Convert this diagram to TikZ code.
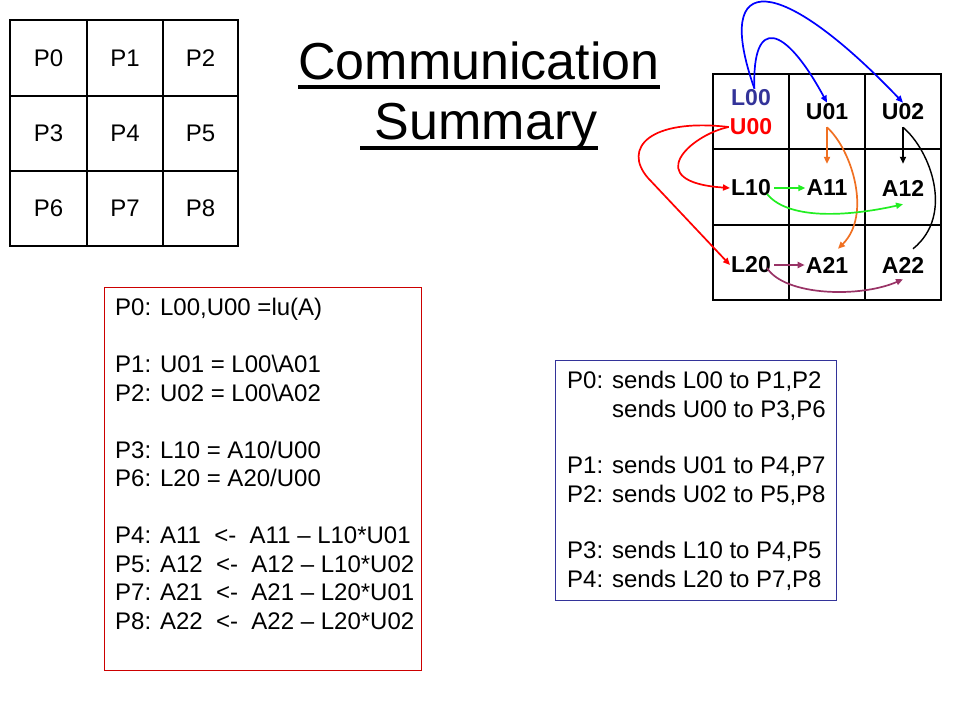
\documentclass[tikz,border=0pt]{standalone}
\usepackage{fontspec}
\setmainfont{Liberation Sans}
\usetikzlibrary{arrows.meta}
\definecolor{navy}{HTML}{333399}
\definecolor{orng}{HTML}{F07022}
\definecolor{grn}{HTML}{22EE22}
\definecolor{plum}{HTML}{993366}
\definecolor{boxred}{HTML}{CC0000}
\tikzset{
	proc/.style={font=\fontsize{24}{28}\selectfont},
	blk/.style={inner sep=1pt, font=\fontsize{23}{28}\bfseries\selectfont},
	title/.style={inner sep=0pt, anchor=base, font=\fontsize{52}{60}\selectfont},
	txt/.style={inner sep=0pt, anchor=base west, font=\fontsize{24}{28}\selectfont},
	msg/.style={line width=0.6mm, -{Triangle[length=7pt,width=6pt]}}
}

\begin{document}
\begin{tikzpicture}[x=1pt, y=-1pt]
		%%%%% START %%%%%
		\useasboundingbox (0,0) rectangle (960,720);
		
		% processor grid
		\draw[line width=0.9mm] (10,20) rectangle (238,246);
		\draw[line width=0.9mm] (87,20) -- (87,246);
		\draw[line width=0.9mm] (163,20) -- (163,246);
		\draw[line width=0.9mm] (10,96) -- (238,96);
		\draw[line width=0.9mm] (10,171) -- (238,171);
		
		\node[proc] (p0) at (48.5,58) {P0};
		\node[proc] (p1) at (125,58) {P1};
		\node[proc] (p2) at (200.5,58) {P2};
		\node[proc] (p3) at (48.5,133.5) {P3};
		\node[proc] (p4) at (125,133.5) {P4};
		\node[proc] (p5) at (200.5,133.5) {P5};
		\node[proc] (p6) at (48.5,208.5) {P6};
		\node[proc] (p7) at (125,208.5) {P7};
		\node[proc] (p8) at (200.5,208.5) {P8};
		
		% title
		\node[title] (comm) at (479,79) {Communication};
		\node[title] (summ) at (479,139) {\ Summary};
		\draw[line width=1.1mm] ([shift={(0,8)}]comm.base west) -- ([shift={(0,8)}]comm.base east);
		\draw[line width=1.1mm] ([shift={(0,9)}]summ.base west) -- ([shift={(0,9)}]summ.base east);
		
		% block grid
		\draw[line width=0.9mm] (713,74) rectangle (941,300);
		\draw[line width=0.9mm] (789,74) -- (789,300);
		\draw[line width=0.9mm] (865,74) -- (865,300);
		\draw[line width=0.9mm] (713,149) -- (941,149);
		\draw[line width=0.9mm] (713,225) -- (941,225);
		
		\node[blk, color=navy] (l00) at (751,98) {L00};
		\node[blk, color=red] (u00) at (751,127) {U00};
		\node[blk] (u01) at (827,112) {U01};
		\node[blk] (u02) at (903,112) {U02};
		\node[blk] (l10) at (751,188) {L10};
		\node[blk] (a11) at (827,188) {A11};
		\node[blk] (a12) at (903,188) {A12};
		\node[blk] (l20) at (751,265) {L20};
		\node[blk] (a21) at (827,265) {A21};
		\node[blk] (a22) at (903,265) {A22};
		
		% messages
		\draw[msg, color=blue] (l00.70) .. controls (712,-32) and (780,-26) .. (u02.north);
		\draw[msg, color=blue] (l00.70) .. controls (752,15) and (785,25) .. (u01.north);
		
		\draw[msg, color=red] (u00.west) .. controls (690,135) and (640,182) .. (l10.west);
		\draw[msg, color=red] (u00.west) .. controls (650,118) and (622,148) .. (648,178) -- (l20.west);
		
		\draw[msg, color=orng, shorten <=6pt, shorten >=15pt] (u01.south) -- (a11.north);
		\draw[msg, color=orng] ([shift={(0,6)}]u01.south) .. controls (852,150) and (872,215) .. ([shift={(11,-7)}]a21.north);
		
		\draw[msg, shorten <=6pt, shorten >=15pt] (u02.south) -- (a12.north);
		\draw[line width=0.5mm] ([shift={(0,6)}]u02.south) .. controls (930,150) and (955,215) .. ([shift={(10,-7)}]a22.north);
		
		\draw[msg, color=grn, shorten <=2pt] (l10.east) -- (a11.west);
		\draw[msg, color=grn] ([shift={(-5,6)}]l10.east) .. controls (790,222) and (855,215) .. ([shift={(0,7)}]a12.south);
		
		\draw[msg, color=plum, shorten <=2pt] (l20.east) -- (a21.west);
		\draw[msg, color=plum] ([shift={(-5,3)}]l20.east) .. controls (785,296) and (860,298) .. ([shift={(0,5)}]a22.south);
		
		% computation box
		\draw[line width=0.35mm, color=boxred] (104,287) rectangle (421,670);
		\node[txt] (eq0) at (115,315) {P0: L00,U00 =lu(A)};
		\node[txt] (eq1) at (115,372) {P1: U01 = L00\textbackslash A01};
		\node[txt] (eq2) at (115,401) {P2: U02 = L00\textbackslash A02};
		\node[txt] (eq3) at (115,458) {P3: L10 = A10/U00};
		\node[txt] (eq6) at (115,486) {P6: L20 = A20/U00};
		\node[txt] (eq4) at (115,543) {P4: A11\ \ <-\ \ A11 – L10*U01};
		\node[txt] (eq5) at (115,572) {P5: A12\ \ <-\ \ A12 – L10*U02};
		\node[txt] (eq7) at (115,600) {P7: A21\ \ <-\ \ A21 – L20*U01};
		\node[txt] (eq8) at (115,629) {P8: A22\ \ <-\ \ A22 – L20*U02};
		
		% communication box
		\draw[line width=0.35mm, color=navy] (555,360) rectangle (836,600);
		\node[txt] (snd0) at (567,388) {P0: sends L00 to P1,P2};
		\node[txt] (snd0b) at (612,417) {sends U00 to P3,P6};
		\node[txt] (snd1) at (567,473) {P1: sends U01 to P4,P7};
		\node[txt] (snd2) at (567,502) {P2: sends U02 to P5,P8};
		\node[txt] (snd3) at (567,558) {P3: sends L10 to P4,P5};
		\node[txt] (snd4) at (567,587) {P4: sends L20 to P7,P8};
		
		%%%%% END %%%%%
\end{tikzpicture}
\end{document}
